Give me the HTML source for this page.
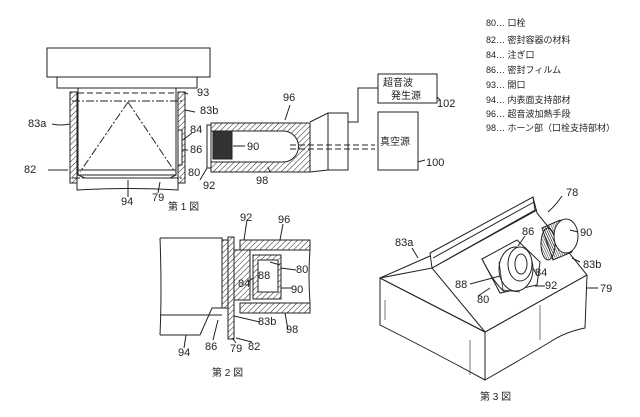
<!DOCTYPE html>
<html><head><meta charset="utf-8"><style>
html,body{margin:0;padding:0;background:#fff;}
svg{display:block;}
text{font-family:"Liberation Sans","Noto Sans CJK JP",sans-serif;fill:#222;}
.l{font-size:11px;}
.j{font-size:10px;}
</style></head><body>
<svg width="640" height="417" viewBox="0 0 640 417" xmlns="http://www.w3.org/2000/svg">
<defs>
<pattern id="h" width="4" height="4" patternUnits="userSpaceOnUse" patternTransform="rotate(45)">
<line x1="0" y1="0" x2="0" y2="4" stroke="#222" stroke-width="1"/></pattern>
<pattern id="v" width="2" height="4" patternUnits="userSpaceOnUse" patternTransform="rotate(-25)">
<line x1="0" y1="0" x2="0" y2="4" stroke="#222" stroke-width="1"/></pattern>
</defs>
<g fill="none" stroke="#222" stroke-width="1">
<!-- Fig 1 -->
<path d="M47 48 L210 48 L210 77 L47 77 Z"/>
<rect x="57" y="77" width="140" height="11"/>
<rect x="70" y="92" width="7" height="91" fill="url(#h)"/>
<rect x="178" y="92" width="7" height="91" fill="url(#h)"/>
<rect x="178" y="130" width="4" height="35" fill="#fff"/>
<path d="M78 88 L78 175 L176 175 L176 88"/>
<line x1="78" y1="93" x2="176" y2="93" stroke-dasharray="6 3"/>
<line x1="72" y1="101" x2="183" y2="101" stroke-dasharray="8 2 2 2"/>
<path d="M128 102 L80 172 M128 102 L175 172" stroke-dasharray="8 2 2 2"/>
<path d="M78 170 L176 170 M78 175 L85 178 L170 178 L176 175"/>
<line x1="72" y1="178" x2="185" y2="178" stroke-dasharray="8 2 2 2"/>
<path d="M77 183 L77 190 Q130 187 178 190 L178 183"/>
<!-- horn -->
<rect x="211" y="123" width="99" height="49" fill="url(#h)"/>
<path d="M211 131 L283 131 A15 15 0 0 1 283 162 L211 162 Z" fill="#fff"/>
<rect x="213" y="131" width="19" height="28" fill="#333"/>
<rect x="207" y="125" width="4" height="43" fill="#fff"/>
<path d="M310 122 L328 113 L348 113 L348 170 L328 170 L310 172"/>
<line x1="328" y1="113" x2="328" y2="170"/>
<line x1="290" y1="145" x2="375" y2="145" stroke-dasharray="6 3"/>
<line x1="290" y1="149" x2="375" y2="149" stroke-dasharray="6 3"/>
<path d="M348 122 L358 122 L358 88 L378 88"/>
<rect x="378" y="74" width="59" height="29"/>
<rect x="378" y="112" width="40" height="58"/>
<path d="M52 124 Q60 126 70 124 M48 170 L68 170 M188 94 L183 92 M195 112 L185 110 M192 133 L183 140 M188 150 L182 150 M200 180 L207 168 M270 172 L268 167 M245 146 L233 146 M290 105 L285 120 M128 197 L128 180 M158 193 L160 182 M440 100 L437 97 M425 160 L418 162"/>
<!-- Fig 2 -->
<path d="M160 238 L222 238 L222 308 L212 308 L200 335 L160 335 M160 238 Q162 290 160 335"/>
<line x1="160" y1="315" x2="222" y2="315"/>
<rect x="222" y="240" width="6" height="68" fill="url(#h)"/>
<rect x="228" y="237" width="6" height="102" fill="url(#h)"/>
<rect x="240" y="240" width="70" height="10" fill="url(#h)"/>
<rect x="240" y="303" width="70" height="10" fill="url(#h)"/>
<path d="M234 250 L250 250 L250 300 L234 300" fill="url(#h)"/>
<rect x="253" y="255" width="28" height="44" fill="url(#h)"/>
<rect x="258" y="260" width="20" height="32" fill="#fff"/>
<path d="M310 250 Q308 275 310 303"/>
<path d="M247 220 L244 240 M283 224 L280 240 M280 265 L270 262 M296 270 L281 268 M292 288 L281 288 M248 282 L253 278 M260 322 L234 316 M288 330 L285 313 M213 340 L218 320 M236 343 L232 338 M252 342 L236 338 M184 348 L186 335"/>
<!-- Fig 3 carton -->
<path d="M380 278 L430 256 L533 197 L537 213 L587 275 L485 332 Z" fill="#fff"/>
<path d="M380 278 L432 268 L485 332 M432 268 L537 210"/>
<path d="M430 253 L533 197 L535 210 L432 268 Z" fill="#fff"/>
<line x1="433" y1="258" x2="534" y2="202"/>
<path d="M380 278 L485 332 L587 275"/>
<path d="M380 278 L380 325 Q430 350 485 380 L485 332"/>
<path d="M587 275 L585 328 Q565 332 550 342 Q520 360 485 380"/>
<path d="M385 300 L385 320 M470 340 L470 375 M540 305 L540 340" stroke-width="0.6"/>
<!-- spout plate -->
<path d="M482 259 L517 240 L540 262 L537 285 L500 293 Z" fill="#fff"/>
<path d="M482 259 Q495 285 505 292"/>
<ellipse cx="516" cy="269" rx="17" ry="22" fill="#fff"/>
<path d="M499 262 L503 290 L520 292" stroke-width="0.8"/>
<ellipse cx="520" cy="264" rx="12" ry="17" fill="#fff"/>
<ellipse cx="521" cy="264" rx="6" ry="10"/>
<!-- cap -->
<path d="M542 228 L560 220 L572 252 L553 260 Z" fill="url(#v)"/>
<ellipse cx="548" cy="244" rx="7" ry="16" fill="url(#v)"/>
<ellipse cx="566" cy="236" rx="12" ry="17" fill="#fff"/>
<!-- leaders -->
<path d="M562 196 Q556 205 548 212 M412 248 L418 258 M525 236 L518 246 M578 238 L578 238 M570 230 L578 232 M580 262 L572 258 M598 288 L587 288 M537 275 L533 268 M545 286 L535 286 M470 284 L500 276 M478 296 L490 288"/>
</g>
<g class="l">
<text x="197" y="96">93</text><text x="200" y="114">83b</text><text x="28" y="127">83a</text>
<text x="190" y="133">84</text><text x="190" y="153">86</text><text x="24" y="173">82</text>
<text x="188" y="176">80</text><text x="203" y="189">92</text><text x="121" y="205">94</text>
<text x="152" y="201">79</text><text x="256" y="184">98</text><text x="247" y="150">90</text>
<text x="283" y="101">96</text><text x="437" y="107">102</text><text x="426" y="166">100</text>
<text x="240" y="221">92</text><text x="278" y="223">96</text><text x="258" y="279">88</text>
<text x="296" y="273">80</text><text x="238" y="287">84</text><text x="291" y="293">90</text>
<text x="258" y="325">83b</text><text x="286" y="333">98</text><text x="205" y="350">86</text>
<text x="230" y="352">79</text><text x="248" y="350">82</text><text x="178" y="356">94</text>
<text x="566" y="196">78</text><text x="580" y="236">90</text><text x="583" y="268">83b</text>
<text x="600" y="292">79</text><text x="395" y="246">83a</text><text x="522" y="235">86</text>
<text x="535" y="276">84</text><text x="545" y="289">92</text><text x="455" y="288">88</text>
<text x="477" y="303">80</text>
</g>
<g class="j">
<text x="168" y="210">第 1 図</text>
<text x="212" y="376">第 2 図</text>
<text x="480" y="400">第 3 図</text>
<text x="383" y="86">超音波</text><text x="391" y="99">発生源</text>
<text x="380" y="145">真空源</text>
</g>
<g style="font-size:9px">
<text x="486" y="26">80… 口栓</text>
<text x="486" y="43">82… 密封容器の材料</text>
<text x="486" y="58">84… 注ぎ口</text>
<text x="486" y="73">86… 密封フィルム</text>
<text x="486" y="88">93… 開口</text>
<text x="486" y="103">94… 内表面支持部材</text>
<text x="486" y="117">96… 超音波加熱手段</text>
<text x="486" y="131">98… ホーン部（口栓支持部材）</text>
</g>
</svg>
</body></html>
